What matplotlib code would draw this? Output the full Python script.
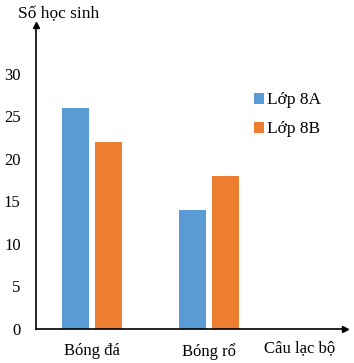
import numpy as np
import matplotlib
matplotlib.use('Agg')
from matplotlib import pyplot as plt

# Data
categories = ['Bóng đá', 'Bóng rổ']
lop_8a = [26, 14]
lop_8b = [22, 18]
y_ticks = [0, 5, 10, 15, 20, 25, 30]

plt.rcParams['font.family'] = ['Liberation Serif', 'DejaVu Serif']
plt.rcParams['font.size'] = 12

W, H = 354, 363
fig = plt.figure(figsize=(W / 100, H / 100), dpi=100)
ax = fig.add_axes([36 / W, (H - 329) / H, (345 - 36) / W, (329 - 25) / H])

x = np.arange(len(categories))
bw = 0.23
ax.bar(x - 0.14, lop_8a, bw, color='#5B9BD5', label='Lớp 8A')
ax.bar(x + 0.14, lop_8b, bw, color='#ED7D31', label='Lớp 8B')

ax.set_xlim(-0.48, 2.16)
ax.set_ylim(0, 35.7)
ax.set_yticks(y_ticks)
ax.set_xticks(x)
ax.set_xticklabels(categories)
ax.tick_params(axis='y', length=0, pad=11)
ax.tick_params(axis='x', length=0, pad=10)

for s in ['top', 'right']:
    ax.spines[s].set_visible(False)
ax.spines['left'].set_linewidth(1.2)
ax.spines['bottom'].set_linewidth(1.2)
# arrow heads on axes
ax.plot(1, 0, '>k', ms=5, transform=ax.transAxes, clip_on=False)
ax.plot(0, 1, '^k', ms=5, transform=ax.transAxes, clip_on=False)

fig.text(18 / W, 1 - 14 / H, 'Số học sinh', ha='left', va='center', fontsize=12.5)
fig.text(300 / W, 1 - 348 / H, 'Câu lạc bộ', ha='center', va='center', fontsize=12)

ax.legend(loc='upper left', bbox_to_anchor=(0.655, 0.83), frameon=False,
          handlelength=0.6, handleheight=0.6, handletextpad=0.15,
          labelspacing=0.75, fontsize=12.5)

fig.savefig('out.png', dpi=100)
